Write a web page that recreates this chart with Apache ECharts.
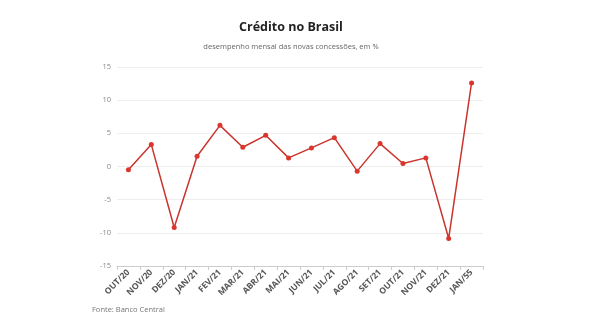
<!DOCTYPE html>
<html><head><meta charset="utf-8">
<script src="https://cdn.jsdelivr.net/npm/echarts@6/dist/echarts.min.js"></script>
<style>html,body{margin:0;padding:0;background:#fff}#c{width:590px;height:330px}</style>
</head><body><div id="c"></div>
<script>
var categories = ['OUT/20','NOV/20','DEZ/20','JAN/21','FEV/21','MAR/21','ABR/21','MAI/21','JUN/21','JUL/21','AGO/21','SET/21','OUT/21','NOV/21','DEZ/21','JAN/55'];
var values = [-0.5, 3.3, -9.2, 1.55, 6.2, 2.9, 4.7, 1.3, 2.8, 4.35, -0.7, 3.45, 0.45, 1.3, -10.85, 12.6];
var yTicks = [-15, -10, -5, 0, 5, 10, 15];
var titleText = 'Crédito no Brasil';
var subtitleText = 'desempenho mensal das novas concessões, em %';
var sourceText = 'Fonte: Banco Central';

var chart = echarts.init(document.getElementById('c'), null, {renderer:'canvas'});
chart.setOption({
  animation:false,
  backgroundColor:'#fff',
  title:[
    {text:titleText, left:291, top:21, padding:0, textAlign:'center',
     textStyle:{fontFamily:'Open Sans', fontSize:12.5, fontWeight:'bold', color:'#222'}},
    {text:subtitleText, left:291, top:43, padding:0, textAlign:'center',
     textStyle:{fontFamily:'Open Sans', fontSize:7.5, fontWeight:'normal', color:'#666'}},
    {text:sourceText, left:92, top:306, padding:0,
     textStyle:{fontFamily:'Open Sans', fontSize:7.5, fontWeight:'normal', color:'#777'}}
  ],
  grid:{left:117, right:107, top:67, bottom:64, containLabel:false},
  xAxis:{type:'category', data:categories, boundaryGap:true,
    axisLine:{onZero:false, lineStyle:{color:'#ccc'}},
    axisTick:{show:true, length:4, lineStyle:{color:'#ccc'}},
    axisLabel:{rotate:45, fontFamily:'Open Sans', fontSize:8.5, fontWeight:'bold', color:'#555', margin:5}
  },
  yAxis:{type:'value', min:yTicks[0], max:yTicks[yTicks.length-1], interval:5,
    axisLine:{show:false}, axisTick:{show:false},
    splitLine:{lineStyle:{color:'#eee'}},
    axisLabel:{fontFamily:'Open Sans', fontSize:7.5, color:'#888', margin:6}
  },
  series:[{type:'line', data:values, symbol:'circle', symbolSize:5,
    lineStyle:{color:'#c9342c', width:1.5},
    itemStyle:{color:'#d9362d'}
  }]
});
</script></body></html>
